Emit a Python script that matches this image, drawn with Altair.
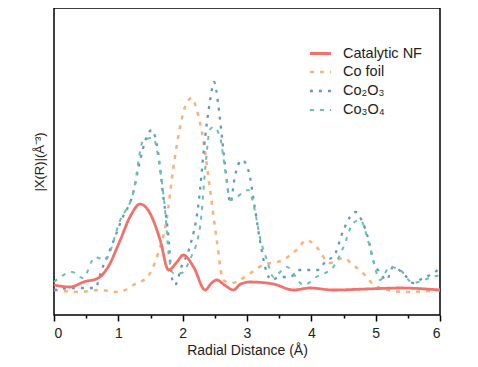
import altair as alt
import pandas as pd

names = ["Catalytic NF", "Co foil", "Co₂O₃", "Co₃O₄"]
colors = ["#F2716A", "#F9B37A", "#6497C6", "#6CBFAF"]
dashes = [[1, 0], [4, 6], [3, 6], [4, 6]]
widths = [2.8, 2, 2, 2]

nf_x = [0, 0.25, 0.46, 0.69, 0.84, 1.03, 1.18, 1.34, 1.49, 1.65, 1.78, 1.9, 2.01, 2.17, 2.35, 2.45, 2.53, 2.65, 2.79, 2.9, 3.05, 3.41, 3.72, 3.98, 4.34, 4.86, 5.38, 6]
nf_y = [30, 28, 33, 37, 48, 75, 98, 111, 102, 75, 45, 52, 60, 48, 25, 32, 35, 30, 25, 31, 33, 31, 25, 27, 25, 26, 27, 25]

foil_x = [0, 0.41, 0.69, 1.0, 1.29, 1.44, 1.62, 1.75, 1.85, 1.96, 2.06, 2.14, 2.22, 2.32, 2.42, 2.53, 2.63, 2.76, 2.94, 3.25, 3.56, 3.77, 3.93, 4.08, 4.29, 4.5, 4.65, 4.8, 5.02, 5.48, 6]
foil_y = [25, 23, 25, 23, 32, 37, 62, 95, 145, 188, 212, 217, 205, 175, 128, 75, 35, 32, 37, 50, 55, 65, 75, 68, 52, 57, 50, 42, 28, 23, 25]

co2_x = [0, 0.3, 0.64, 0.74, 0.87, 1.05, 1.23, 1.34, 1.44, 1.52, 1.62, 1.70, 1.78, 1.83, 1.88, 1.98, 2.11, 2.24, 2.35, 2.42, 2.49, 2.55, 2.61, 2.68, 2.74, 2.81, 2.92, 3.02, 3.12, 3.2, 3.31, 3.38, 3.51, 3.67, 3.82, 3.98, 4.1, 4.24, 4.34, 4.5, 4.6, 4.69, 4.78, 4.89, 4.96, 5.07, 5.17, 5.27, 5.48, 5.58, 5.74, 5.9, 6]
co2_y = [25, 27, 27, 45, 65, 95, 122, 155, 178, 185, 162, 118, 78, 38, 30, 48, 68, 108, 178, 212, 233, 212, 178, 138, 112, 138, 155, 145, 108, 75, 42, 35, 38, 38, 45, 45, 45, 55, 58, 85, 98, 103, 95, 75, 55, 42, 35, 48, 38, 32, 37, 42, 47]

co3_x = [0, 0.28, 0.45, 0.64, 0.79, 1.03, 1.23, 1.39, 1.54, 1.65, 1.73, 1.78, 1.85, 1.98, 2.11, 2.27, 2.35, 2.42, 2.48, 2.58, 2.66, 2.74, 2.84, 3.02, 3.12, 3.2, 3.31, 3.41, 3.62, 3.88, 4.08, 4.34, 4.5, 4.65, 4.76, 4.91, 5.07, 5.22, 5.38, 5.58, 5.84, 6]
co3_y = [33, 43, 37, 58, 55, 95, 122, 175, 177, 145, 102, 62, 42, 42, 55, 88, 145, 185, 188, 178, 145, 115, 118, 125, 105, 78, 55, 38, 48, 30, 38, 48, 68, 92, 95, 68, 35, 48, 45, 32, 37, 40]

xs = [nf_x, foil_x, co2_x, co3_x]
ys = [nf_y, foil_y, co2_y, co3_y]

rows = []
for i, n in enumerate(names):
    for j, (a, b) in enumerate(zip(xs[i], ys[i])):
        rows.append({"series": n, "x": a, "y": b, "k": j})
df = pd.DataFrame(rows)

font = "Liberation Sans"

leg = dict(title=None, orient="none", legendX=254, legendY=33,
           symbolType="stroke", symbolSize=450, labelFontSize=14.5,
           labelFont=font, labelColor="#222", rowPadding=0, labelOffset=10)

enc = dict(
    x=alt.X("x:Q", scale=alt.Scale(domain=[0, 6], nice=False),
            axis=alt.Axis(values=[i * 0.5 for i in range(13)],
                          labelExpr="datum.value % 1 === 0 ? format(datum.value, 'd') : ''",
                          tickSize={"condition": {"test": "datum.value % 1 !== 0", "value": 3}, "value": 6},
                          tickColor="black", tickWidth=1.5, domain=False, grid=False,
                          labelFontSize=14, labelFont=font, labelColor="#222", labelPadding=5,
                          title="Radial Distance (Å)", titleFontSize=14, titleFont=font,
                          titleFontWeight="normal", titleColor="#222", titlePadding=3)),
    y=alt.Y("y:Q", scale=alt.Scale(domain=[0, 307], nice=False),
            axis=alt.Axis(labels=False, ticks=False, domain=False, grid=False,
                          title="|X(R)|(Å⁻³)", titleFontSize=13, titleFont=font,
                          titleFontWeight="normal", titleColor="#222", titlePadding=8)),
    color=alt.Color("series:N", scale=alt.Scale(domain=names, range=colors),
                    legend=alt.Legend(**leg)),
    strokeDash=alt.StrokeDash("series:N", scale=alt.Scale(domain=names, range=dashes),
                              legend=alt.Legend(**leg)),
    strokeWidth=alt.StrokeWidth("series:N", scale=alt.Scale(domain=names, range=widths),
                                legend=alt.Legend(**leg)),
    order="k:Q",
)

others = alt.Chart(df).transform_filter(alt.datum.series != names[0]).mark_line(
    interpolate="monotone").encode(**enc)
red = alt.Chart(df).transform_filter(alt.datum.series == names[0]).mark_line(
    interpolate="monotone").encode(**enc)

chart = alt.layer(others, red).properties(
    width=386, height=307,
    autosize=alt.AutoSizeParams(type="none"),
    padding={"left": 46, "top": 0, "right": 30, "bottom": 52},
).configure_view(stroke="black", strokeWidth=1.5)

chart.save("out.html", embed_options={"renderer": "svg", "actions": False})
